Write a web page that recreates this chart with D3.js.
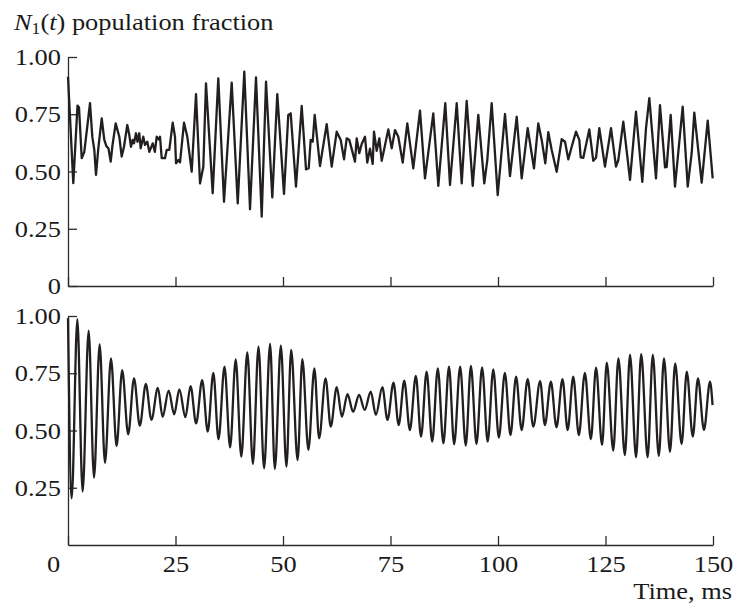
<!DOCTYPE html>
<html>
<head>
<meta charset="utf-8">
<script src="https://cdn.jsdelivr.net/npm/d3@7"></script>
<style>
  body { margin: 0; background: #fff; }
  svg text { font-family: "Liberation Serif", "Times New Roman", serif; fill: #1a1a1a; }
  .axis path, .axis line { stroke: #2b2b2b; stroke-width: 1.3; }
  .trace { fill: none; stroke: #231f20; stroke-width: 2.3; stroke-linejoin: round; }
</style>
</head>
<body>
<div id="chart"></div>
<script>
"use strict";

// тики оси времени, мс
var timeTicks = [0, 25, 50, 75, 100, 125, 150];
var topTicks = [0, 0.25, 0.5, 0.75, 1];
var bottomTicks = [0.25, 0.5, 0.75, 1];

// верхняя панель: [t, N1] — экстремумы
var topSeries = [
  [0.0,0.914],[1.23,0.449],[2.21,0.788],[2.56,0.78],[3.19,0.558],[3.79,0.586],[5.12,0.798],[5.65,0.652],
  [6.12,0.594],[6.51,0.485],[7.05,0.601],[7.84,0.732],[8.44,0.638],[8.95,0.61],[9.42,0.6],[9.93,0.543],
  [10.3,0.608],[11.09,0.71],[11.93,0.652],[12.49,0.565],[13.02,0.608],[13.79,0.703],[14.26,0.659],[14.65,0.608],
  [15.05,0.638],[15.35,0.623],[15.81,0.667],[16.16,0.63],[16.58,0.667],[16.9,0.601],[17.51,0.652],[17.9,0.616],
  [18.44,0.63],[18.91,0.586],[19.7,0.623],[20.2,0.586],[20.63,0.652],[21.09,0.64],[21.4,0.652],[21.79,0.558],
  [22.56,0.558],[22.95,0.594],[23.56,0.594],[24.35,0.713],[24.88,0.652],[25.12,0.536],[25.65,0.55],[26.05,0.54],
  [26.98,0.713],[27.74,0.652],[28.77,0.499],[29.77,0.838],[30.7,0.448],[31.47,0.521],[32.09,0.885],[33.65,0.405],
  [34.95,0.907],[36.28,0.368],[38.07,0.888],[39.47,0.361],[41.0,0.936],[42.33,0.335],[43.72,0.911],[45.05,0.303],
  [46.05,0.892],[47.51,0.387],[48.67,0.838],[50.23,0.402],[51.23,0.747],[51.79,0.754],[53.02,0.434],[54.35,0.786],
  [55.35,0.509],[55.98,0.514],[56.44,0.638],[56.91,0.63],[57.37,0.747],[58.6,0.524],[60.16,0.707],[61.33,0.521],
  [62.49,0.674],[63.42,0.638],[64.19,0.553],[64.81,0.645],[65.42,0.638],[66.74,0.543],[67.14,0.645],[67.74,0.58],
  [68.3,0.62],[69.07,0.652],[69.6,0.539],[70.23,0.6],[70.86,0.533],[71.16,0.674],[71.79,0.59],[72.4,0.645],
  [72.95,0.547],[73.49,0.594],[74.49,0.684],[75.28,0.601],[76.05,0.681],[76.81,0.652],[77.84,0.539],[78.91,0.71],
  [80.3,0.514],[81.86,0.766],[83.02,0.47],[84.95,0.754],[86.12,0.437],[87.74,0.798],[88.84,0.441],[90.4,0.798],
  [91.56,0.448],[92.72,0.808],[94.12,0.437],[95.42,0.747],[96.81,0.448],[97.51,0.55],[98.53,0.798],[99.93,0.397],
  [101.63,0.751],[102.79,0.48],[104.35,0.739],[105.51,0.47],[106.91,0.689],[108.37,0.514],[109.37,0.71],[110.16,0.638],
  [111.0,0.536],[111.7,0.672],[112.49,0.594],[113.65,0.499],[114.81,0.641],[115.58,0.63],[116.35,0.553],[117.14,0.608],
  [118.14,0.674],[118.91,0.638],[119.23,0.562],[119.84,0.56],[121.23,0.684],[122.16,0.547],[122.79,0.56],[123.56,0.689],
  [124.88,0.521],[126.28,0.689],[127.44,0.521],[127.98,0.55],[129.14,0.718],[130.7,0.463],[132.09,0.761],[133.56,0.455],
  [134.42,0.689],[135.19,0.82],[136.74,0.47],[137.67,0.79],[138.84,0.518],[139.23,0.52],[140.16,0.747],[141.16,0.434],
  [142.95,0.783],[144.12,0.434],[145.05,0.582],[145.65,0.757],[147.37,0.451],[148.77,0.722],[149.93,0.47]
];

// нижняя панель: [t, N1] — пики и впадины биений
var bottomSeries = [
  [0,0.99],[0.86,0.204],[2.17,0.986],[3.4,0.233],[4.8,0.936],[6.05,0.294],[7.36,0.876],[8.6,0.359],
  [10.0,0.815],[11.3,0.432],[12.6,0.764],[14.0,0.483],[15.35,0.728],[16.7,0.521],[18.1,0.703],[19.4,0.547],
  [20.9,0.686],[22.0,0.56],[23.4,0.674],[24.7,0.571],[25.9,0.68],[27.3,0.558],[28.5,0.694],[29.8,0.531],
  [31.2,0.72],[32.5,0.495],[33.8,0.752],[35.0,0.462],[36.4,0.779],[37.7,0.426],[39.0,0.811],[40.3,0.386],
  [41.7,0.841],[43.0,0.354],[44.3,0.866],[45.6,0.335],[47.0,0.878],[48.1,0.332],[49.5,0.87],[50.8,0.342],
  [51.9,0.852],[53.4,0.371],[54.5,0.812],[55.9,0.415],[57.3,0.771],[58.4,0.466],[59.9,0.728],[61.1,0.517],
  [62.5,0.689],[63.7,0.56],[65.0,0.659],[66.3,0.582],[67.7,0.655],[69.0,0.59],[70.4,0.67],[71.6,0.568],
  [73.1,0.689],[74.3,0.546],[75.7,0.709],[76.9,0.524],[78.2,0.718],[79.5,0.502],[80.9,0.738],[82.1,0.473],
  [83.4,0.757],[84.7,0.451],[86.0,0.771],[87.3,0.444],[88.6,0.779],[89.8,0.44],[91.2,0.779],[92.5,0.434],
  [93.7,0.782],[95.0,0.441],[96.3,0.776],[97.6,0.451],[98.9,0.767],[100.2,0.469],[101.6,0.752],[102.9,0.48],
  [104.2,0.735],[105.5,0.502],[106.9,0.724],[108.2,0.517],[109.8,0.716],[110.9,0.524],[112.3,0.713],[113.6,0.514],
  [115.0,0.724],[116.2,0.502],[117.5,0.735],[118.8,0.48],[120.2,0.752],[121.6,0.462],[122.8,0.774],[124.2,0.437],
  [125.3,0.796],[126.8,0.412],[128.0,0.815],[129.5,0.393],[130.7,0.83],[132.1,0.383],[133.3,0.833],[134.8,0.383],
  [136.0,0.83],[137.4,0.389],[138.6,0.815],[140.0,0.407],[141.2,0.793],[142.7,0.441],[143.9,0.757],[145.3,0.473],
  [146.5,0.728],[147.9,0.502],[149.3,0.713],[149.9,0.611]
];

var width = 735;
var height = 604;
var plotLeft = 68;
var plotRight = 713;
var tickLen = 9;
var fontSize = 24;
var stretch = 1.1; // шрифт в оригинале чуть шире, чем Times

var svg = d3.select('#chart')
            .append('svg')
            .attr('width', width)
            .attr('height', height);

var scaleX = d3.scaleLinear()
              .domain([0, 150])
              .range([plotLeft, plotRight]);

var scaleYTop = d3.scaleLinear()
                 .domain([0, 1])
                 .range([286, 57]);
var scaleYBottom = d3.scaleLinear()
                    .domain([0, 1])
                    .range([545, 316]);

function fmt(d) {
  return d === 0 ? '0' : d3.format('.2f')(d);
}

function drawPanel(scaleY, yTicks, showTimeLabels) {
  var xAxis = d3.axisBottom(scaleX)
                .tickValues(timeTicks)
                .tickSizeInner(-tickLen)
                .tickSizeOuter(0)
                .tickPadding(10);
  var yAxis = d3.axisLeft(scaleY)
                .tickValues(yTicks)
                .tickSizeInner(-tickLen)
                .tickSizeOuter(0)
                .tickPadding(7)
                .tickFormat(fmt);

  var gX = svg.append('g')
              .attr('class', 'axis axis-x')
              .attr('transform', 'translate(0,' + scaleY(0) + ')')
              .call(xAxis);
  var gY = svg.append('g')
              .attr('class', 'axis axis-y')
              .attr('transform', 'translate(' + plotLeft + ',0)')
              .call(yAxis);

  if (!showTimeLabels) {
    gX.selectAll('.tick text').remove();
  } else {
    // ноль в оригинале сдвинут влево от угла осей
    gX.selectAll('.tick text')
      .filter(function(d) { return d === 0; })
      .attr('x', -15);
  }

  svg.selectAll('.axis text')
     .attr('font-size', fontSize)
     .attr('font-family', '"Liberation Serif", "Times New Roman", serif')
     .attr('fill', '#1a1a1a');
}

drawPanel(scaleYTop, topTicks, false);
drawPanel(scaleYBottom, bottomTicks, true);

// чуть растягиваем подписи тиков по горизонтали
svg.selectAll('.axis .tick text').each(function() {
  var w = this.getComputedTextLength();
  d3.select(this)
    .attr('textLength', w * stretch)
    .attr('lengthAdjust', 'spacingAndGlyphs');
});

var topLine = d3.line()
  .x(function(d) { return scaleX(d[0]); })
  .y(function(d) { return scaleYTop(d[1]); });

var bottomLine = d3.line()
  .curve(d3.curveMonotoneX)
  .x(function(d) { return scaleX(d[0]); })
  .y(function(d) { return scaleYBottom(d[1]); });

svg.append('path')
   .attr('class', 'trace')
   .attr('d', topLine(topSeries));

svg.append('path')
   .attr('class', 'trace')
   .attr('d', bottomLine(bottomSeries));

// заголовок оси Y
var title = svg.append('text')
               .attr('transform', 'translate(14,30) scale(' + stretch + ',1)')
               .attr('font-size', fontSize);
title.append('tspan').attr('font-style', 'italic').text('N');
title.append('tspan').attr('font-size', 16).attr('dy', 4).text('1');
title.append('tspan').attr('dy', -4).text('(');
title.append('tspan').attr('font-style', 'italic').text('t');
title.append('tspan').text(') population fraction');

// подпись оси X
svg.append('text')
   .attr('transform', 'translate(732,599) scale(' + stretch + ',1)')
   .attr('font-size', fontSize)
   .attr('text-anchor', 'end')
   .text('Time, ms');
</script>
</body>
</html>
